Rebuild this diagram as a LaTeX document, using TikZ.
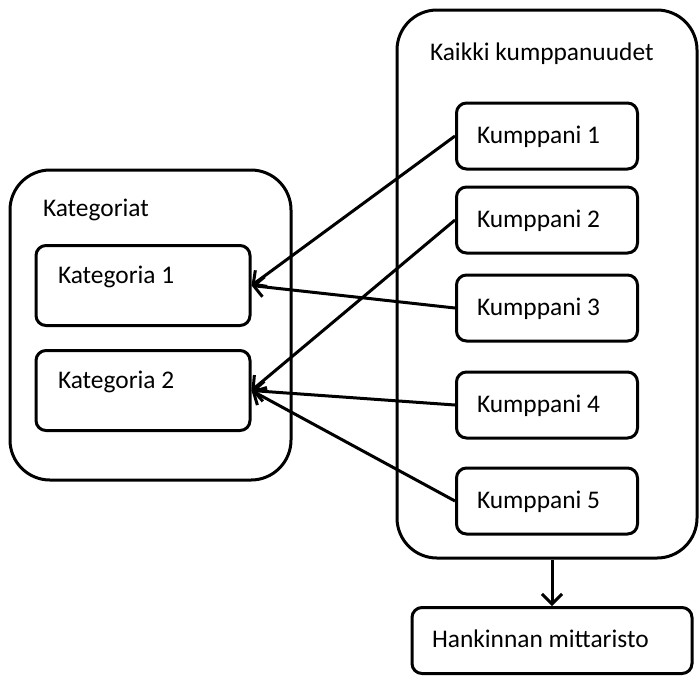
\documentclass[tikz,border=0pt]{standalone}
\usepackage{fontspec}
\setmainfont{Carlito}
\usetikzlibrary{arrows.meta,positioning}

\begin{document}
\begin{tikzpicture}[node distance=2cm, on grid, line width=1.5pt,
	font=\fontsize{12.7pt}{15pt}\selectfont,
	>={Straight Barb[length=5pt,width=10pt]},
	group/.style={draw, rounded corners=20pt, inner sep=0pt},
	title/.style={anchor=base west, inner sep=0pt},
	category/.style={draw, rounded corners=5pt, inner xsep=11pt, inner ysep=0pt,
		text width=85pt, align=flush left, text height=19pt, text depth=21pt},
	partner/.style={draw, rounded corners=5pt, inner xsep=10.25pt, inner ysep=0pt,
		text width=70pt, align=flush left, text height=20pt, text depth=13pt}]
	\useasboundingbox (0pt,0pt) rectangle (349.5pt,-337.5pt);

	\node[group, minimum width=150pt, minimum height=274pt] (kaikki) at (273.5pt,-142pt) {};
	\node[title] (kaikkititle) at ([shift={(16.5pt,-26pt)}]kaikki.north west) {Kaikki kumppanuudet};

	\node[partner] (k1) [below=46.5pt of kaikki.north] {Kumppani 1};
	\node[partner] (k2) [below=42pt of k1] {Kumppani 2};
	\node[partner] (k3) [below=44pt of k2] {Kumppani 3};
	\node[partner] (k4) [below=48.5pt of k3] {Kumppani 4};
	\node[partner] (k5) [below=48pt of k4] {Kumppani 5};

	\node[group, minimum width=140.5pt, minimum height=155pt] (kat) at (75.25pt,-162.5pt) {};
	\node[title] (kattitle) at ([shift={(16.5pt,-24pt)}]kat.north west) {Kategoriat};

	\node[category] (kat1) at (71.5pt,-142.75pt) {Kategoria 1};
	\node[category] (kat2) [below=52.5pt of kat1] {Kategoria 2};

	\node[partner, inner xsep=10pt, text width=120pt] (hank) at (276pt,-320.25pt) {Hankinnan mittaristo};

	\path[->]	(k1.west)	edge	(kat1.east)
				(k3.west)	edge	(kat1.east)
				(k2.west)	edge	(kat2.east)
				(k4.west)	edge	(kat2.east)
				(k5.west)	edge	(kat2.east);
	\draw[->] (kaikki.south -| hank.north) -- (hank.north);
\end{tikzpicture}
\end{document}
